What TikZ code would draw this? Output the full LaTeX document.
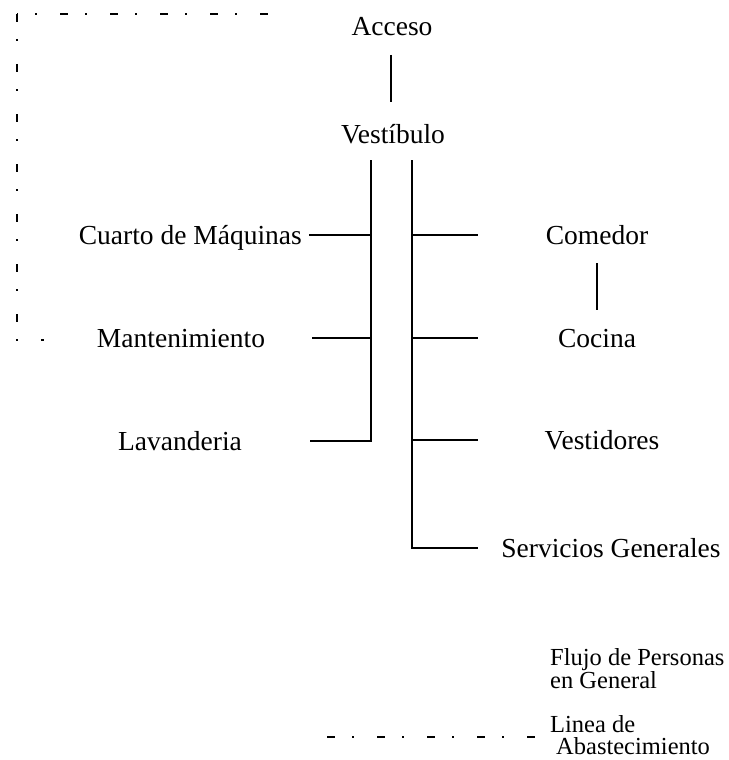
\documentclass[tikz,border=0pt]{standalone}
\usepackage{fontspec}
\setmainfont{Liberation Serif}
\begin{document}
\begin{tikzpicture}[x=1pt,y=-1pt,
  lbl/.style={font=\fontsize{27.5}{29}\selectfont, inner sep=0pt, anchor=base},
  leg/.style={font=\fontsize{24.5}{23}\selectfont, inner sep=0pt, anchor=base west},
  conn/.style={line width=2pt},
  supply/.style={line width=2.2pt, dash pattern=on 8pt off 17pt on 2pt off 23pt}]
\useasboundingbox (0,0) rectangle (728,760);

% labels
\node[lbl] (acc) at (392,36) {Acceso};
\node[lbl] (ves) at (393,143) {Vestíbulo};
\node[lbl, anchor=base east] (cuarto) at (302,244) {Cuarto de Máquinas};
\node[lbl] (mant) at (181,347) {Mantenimiento};
\node[lbl] (lav) at (180,450) {Lavanderia};
\node[lbl] (com) at (597,244) {Comedor};
\node[lbl] (coc) at (597,347) {Cocina};
\node[lbl] (vest) at (602,449) {Vestidores};
\node[lbl] (serv) at (611,557) {Servicios Generales};
\node[leg] (flujo1) at (550,665) {Flujo de Personas};
\node[leg] (flujo2) at (550,688) {en General};
\node[leg] (lin1) at (550,732) {Linea de};
\node[leg] (lin2) at (556,754) {Abastecimiento};

% junction coordinates
\coordinate (a1) at (391,55);
\coordinate (a2) at (391,102);
\coordinate (L0) at (371,160);
\coordinate (L1) at (371,235);
\coordinate (L2) at (371,338);
\coordinate (L3) at (371,441);
\coordinate (R0) at (412,160);
\coordinate (R1) at (412,235);
\coordinate (R2) at (412,338);
\coordinate (R3) at (412,440);
\coordinate (R4) at (412,548);
\coordinate (cqE) at (309,235);
\coordinate (mtE) at (312,338);
\coordinate (lvE) at (310,441);
\coordinate (coE) at (478,235);
\coordinate (ciE) at (478,338);
\coordinate (veE) at (478,440);
\coordinate (svE) at (478,548);
\coordinate (c1) at (597,263);
\coordinate (c2) at (597,310);

% supply line coordinates
\coordinate (S0) at (17,14);
\coordinate (S1) at (272,14);
\coordinate (S2) at (17,340);
\coordinate (S3) at (44,340);
\coordinate (legS) at (327,737);
\coordinate (legE) at (540,737);

% connectors
\draw[conn] (a1) -- (a2);
\draw[conn] (L0) -- (L3) -- (lvE);
\draw[conn] (cqE) -- (L1);
\draw[conn] (mtE) -- (L2);
\draw[conn] (R0) -- (R4) -- (svE);
\draw[conn] (R1) -- (coE);
\draw[conn] (R2) -- (ciE);
\draw[conn] (R3) -- (veE);
\draw[conn] (c1) -- (c2);

% supply (dash-dot) lines
\draw[supply, dash phase=7pt] (S0) -- (S1);
\draw[supply] (S0) -- (S2) -- (S3);
\draw[supply] (legS) -- (legE);
\end{tikzpicture}
\end{document}
